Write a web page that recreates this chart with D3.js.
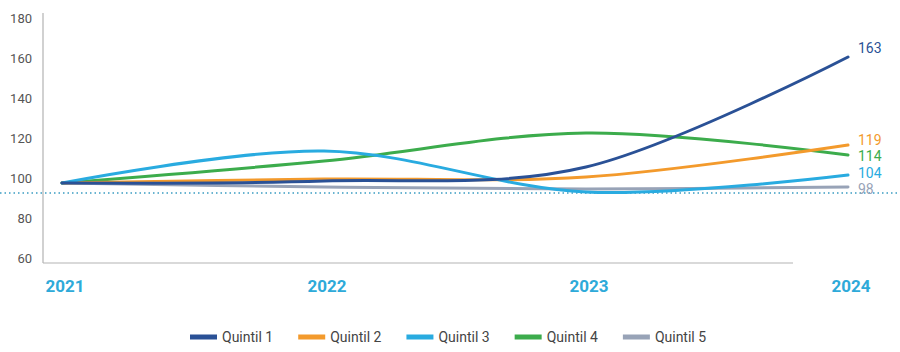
<!DOCTYPE html>
<html>
<head>
<meta charset="utf-8">
<script src="https://cdn.jsdelivr.net/npm/d3@7"></script>
<style>
  body { margin: 0; background: #fff; }
  svg { font-family: Roboto, "Noto Sans", sans-serif; display: block; }
</style>
</head>
<body>
<div id="chart"></div>
<script>
// data
var years = ["2021", "2022", "2023", "2024"];
var seriesNames = ["Quintil 1", "Quintil 2", "Quintil 3", "Quintil 4", "Quintil 5"];
var q1 = [100, 101, 108, 163];
var q2 = [100, 102, 103, 119];
var q3 = [100, 116, 95.5, 104];
var q4 = [100, 111, 125, 114];
var q5 = [100, 98, 97, 98];
var yTicks = [60, 80, 100, 120, 140, 160, 180];
var refValue = 95;

var colors = ["#2a5196", "#f39a2c", "#29abe0", "#3cac4c", "#98a3b7"];
var allSeries = [q1, q2, q3, q4, q5];

var width = 900;
var height = 352;

var svg = d3
  .select("#chart")
  .append("svg")
  .attr("width", width)
  .attr("height", height);

// scales
var x = d3.scalePoint().domain(years).range([62, 848]);
var y = d3.scaleLinear().domain([60, 180]).range([263, 23]);

// axis lines
svg.append("line")
  .attr("x1", 43).attr("x2", 43)
  .attr("y1", 13).attr("y2", 263)
  .attr("stroke", "#b3b3b3").attr("stroke-width", 1.2);

svg.append("line")
  .attr("x1", 43).attr("x2", 793)
  .attr("y1", 263).attr("y2", 263)
  .attr("stroke", "#b3b3b3").attr("stroke-width", 1.2);

// y tick labels (drawn a bit above the tick value, like the original)
svg.selectAll(".ytick")
  .data(yTicks)
  .enter()
  .append("text")
  .attr("class", "ytick")
  .attr("x", 32)
  .attr("y", (d) => y(d) - 5)
  .attr("dy", "0.35em")
  .attr("text-anchor", "end")
  .attr("font-size", "13px")
  .attr("fill", "#555")
  .text((d) => d);

// x labels
svg.selectAll(".xtick")
  .data(years)
  .enter()
  .append("text")
  .attr("class", "xtick")
  .attr("x", (d) => x(d) + 3)
  .attr("y", 286)
  .attr("dy", "0.35em")
  .attr("text-anchor", "middle")
  .attr("font-size", "17px")
  .attr("font-weight", "700")
  .attr("fill", "#2eaad9")
  .text((d) => d);

// dotted reference line
svg.append("line")
  .attr("x1", 0).attr("x2", width)
  .attr("y1", y(refValue)).attr("y2", y(refValue))
  .attr("stroke", "#3a9cc2")
  .attr("stroke-width", 1.5)
  .attr("stroke-dasharray", "1.5,3");

// lines
var line = d3.line()
  .x((d, i) => x(years[i]))
  .y((d) => y(d))
  .curve(d3.curveCardinal.tension(0));

var drawOrder = [4, 3, 1, 2, 0];
svg.selectAll(".series")
  .data(drawOrder)
  .enter()
  .append("path")
  .attr("class", "series")
  .attr("fill", "none")
  .attr("stroke", (k) => colors[k])
  .attr("stroke-width", 3)
  .attr("stroke-linecap", "round")
  .attr("d", (k) => line(allSeries[k]));

// end labels, pushed apart so they don't overlap
var ends = allSeries.map((s, i) => ({ i: i, v: s[s.length - 1], ly: y(s[s.length - 1]) - 5 }));
ends.sort((a, b) => a.ly - b.ly);
for (var j = 1; j < ends.length; j++) {
  if (ends[j].ly - ends[j - 1].ly < 16.5) ends[j].ly = ends[j - 1].ly + 16.5;
}
ends[0].ly -= 4;

svg.selectAll(".endlabel")
  .data(ends)
  .enter()
  .append("text")
  .attr("class", "endlabel")
  .attr("x", 858)
  .attr("y", (d) => d.ly)
  .attr("dy", "0.35em")
  .attr("font-size", "14px")
  .attr("fill", (d) => colors[d.i])
  .text((d) => d.v);

// legend
var legend = svg.append("g").attr("transform", "translate(0,337)");
var lx = 190;
seriesNames.forEach(function (name, i) {
  var g = legend.append("g").attr("transform", "translate(" + lx + ",0)");
  g.append("rect")
    .attr("x", 0).attr("y", -2.5)
    .attr("width", 27).attr("height", 5)
    .attr("fill", colors[i]);
  var t = g.append("text")
    .attr("x", 32).attr("y", 0)
    .attr("dy", "0.35em")
    .attr("font-size", "14px")
    .attr("fill", "#444")
    .text(name);
  lx += 32 + t.node().getComputedTextLength() + 25;
});
</script>
</body>
</html>
